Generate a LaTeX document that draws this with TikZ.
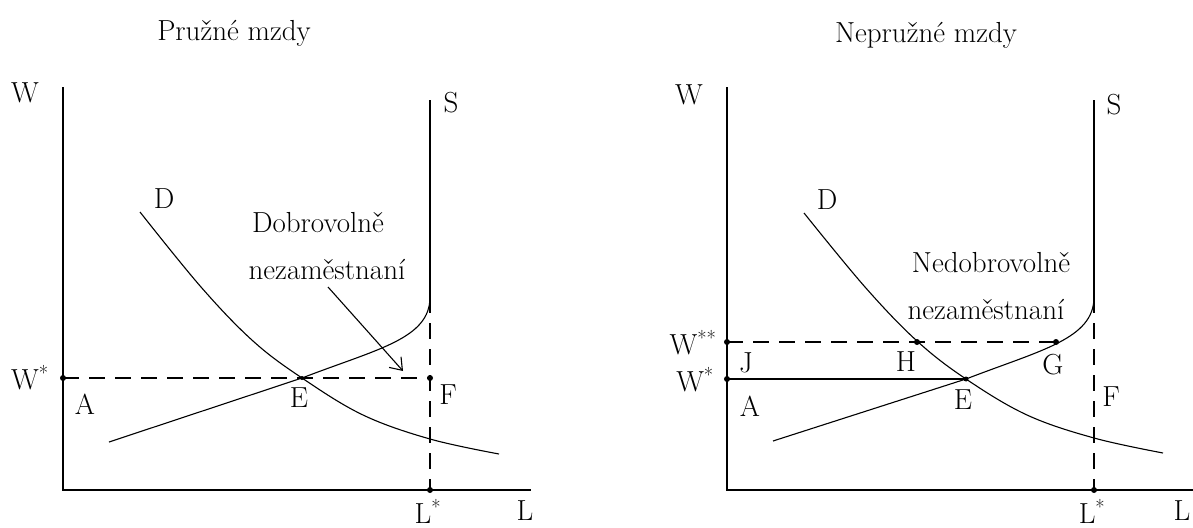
\documentclass[tikz,border=0pt]{standalone}
\usetikzlibrary{arrows.meta}
\begin{document}
\begin{tikzpicture}[x=1pt,y=-1pt,
  lbl/.style={inner sep=0pt, font=\fontsize{29}{33}\selectfont},
  axisline/.style={line width=1.3pt},
  curveline/.style={line width=1.1pt},
  dashline/.style={line width=1.3pt, dash pattern=on 16pt off 10pt},
  dot/.style={circle, fill=black, inner sep=0pt, minimum size=6pt}]
\useasboundingbox (0,0) rectangle (1193,527);

% ---------------- left panel ----------------
\node[lbl] (title1) at (234,33) {Pružné mzdy};
\coordinate (O1) at (63,490);
\coordinate (Y1) at (63,87);
\coordinate (X1) at (531,490);
\draw[axisline] (Y1) -- (O1) -- (X1);
\coordinate (Stop1) at (430,100);
\coordinate (Sbend1) at (430,297);
\coordinate (Lst1) at (430,490);
\draw[axisline] (Stop1) -- (Sbend1);
\draw[dashline] (Sbend1) -- (Lst1);
\coordinate (E1) at (302,378);
\coordinate (Sst1) at (109,442);
\draw[curveline] (Sst1) -- (E1) .. controls (377,349) and (430,339) .. (Sbend1);
\draw[curveline] plot[smooth, tension=0.6] coordinates {(140,212) (201,287) (253,341) (302,378) (363,415) (430,439) (499,454)};
\coordinate (Wst1) at (63,378);
\coordinate (F1) at (430,378);
\draw[dashline] (Wst1) -- (F1);
\node[dot] (dW1) at (Wst1) {};
\node[dot] (dF1) at (F1) {};
\node[dot] (dL1) at (Lst1) {};
\node[dot, minimum size=4pt] (dE1) at (E1) {};
\node[lbl] (W1) at (25,93) {W};
\node[lbl] (Wstar1) at (30,378) {W\textsuperscript{*}};
\node[lbl] (A1) at (85,404) {A};
\node[lbl] (Elbl1) at (299,398) {E};
\node[lbl] (Flbl1) at (448,395) {F};
\node[lbl] (S1) at (451,103) {S};
\node[lbl] (D1) at (164,199) {D};
\node[lbl] (Lstar1) at (428,511) {L\textsuperscript{*}};
\node[lbl] (L1) at (525,511) {L};
\node[lbl] (dob1) at (318,223) {Dobrovolně};
\node[lbl] (nez1) at (327,270) {nezaměstnaní};
\coordinate (arS1) at (328,287);
\coordinate (arE1) at (403,371);
\draw[curveline, -{Straight Barb[length=11pt,width=16pt]}] (arS1) -- (arE1);

% ---------------- right panel ----------------
\begin{scope}[xshift=664pt]
\node[lbl] (title2) at (262,35) {Nepružné mzdy};
\coordinate (O2) at (63,490);
\coordinate (Y2) at (63,87);
\coordinate (X2) at (531,490);
\draw[axisline] (Y2) -- (O2) -- (X2);
\coordinate (Stop2) at (430,100);
\coordinate (Sbend2) at (430,297);
\coordinate (Lst2) at (430,490);
\draw[axisline] (Stop2) -- (Sbend2);
\draw[dashline] (Sbend2) -- (Lst2);
\coordinate (E2) at (302,379);
\coordinate (Sst2) at (109,441);
\draw[curveline] (Sst2) -- (E2) .. controls (377,350) and (430,339) .. (Sbend2);
\draw[curveline] plot[smooth, tension=0.6] coordinates {(140,213) (201,287) (253,341) (302,379) (363,415) (430,438) (499,453)};
\coordinate (Wss2) at (63,342);
\coordinate (H2) at (253,342);
\coordinate (G2) at (392,342);
\coordinate (Wst2) at (63,379);
\draw[dashline] (Wss2) -- (G2);
\draw[axisline] (Wst2) -- (E2);
\node[dot] (dWss2) at (Wss2) {};
\node[dot] (dH2) at (H2) {};
\node[dot] (dG2) at (G2) {};
\node[dot] (dWst2) at (Wst2) {};
\node[dot, minimum size=5pt] (dE2) at (E2) {};
\node[dot] (dL2) at (Lst2) {};
\node[lbl] (W2) at (25,95) {W};
\node[lbl] (Wss2l) at (29,343) {W\textsuperscript{**}};
\node[lbl] (Wst2l) at (31,380) {W\textsuperscript{*}};
\node[lbl] (J2) at (82,363) {J};
\node[lbl] (A2) at (86,406) {A};
\node[lbl] (Hlbl2) at (242,362) {H};
\node[lbl] (Elbl2) at (299,400) {E};
\node[lbl] (Glbl2) at (389,365) {G};
\node[lbl] (Flbl2) at (447,397) {F};
\node[lbl] (S2) at (450,105) {S};
\node[lbl] (D2) at (163,200) {D};
\node[lbl] (Lstar2) at (428,511) {L\textsuperscript{*}};
\node[lbl] (L2) at (518,511) {L};
\node[lbl] (ned2) at (327,263) {Nedobrovolně};
\node[lbl] (nez2) at (322,310) {nezaměstnaní};
\end{scope}
\end{tikzpicture}
\end{document}
